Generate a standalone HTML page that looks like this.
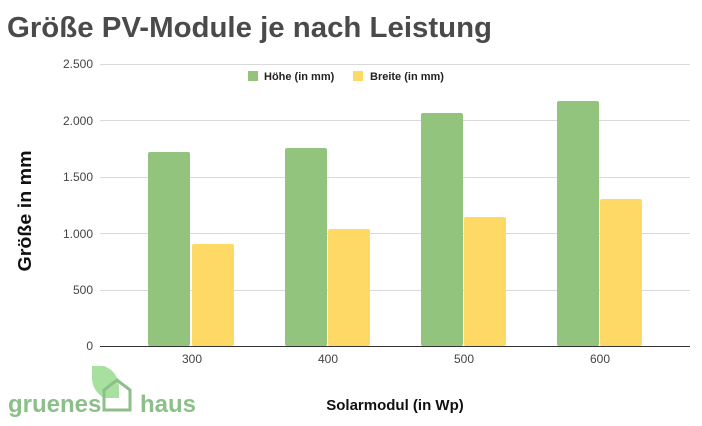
<!DOCTYPE html>
<html><head><meta charset="utf-8"><style>
body{margin:0;background:#fff;width:702px;height:421px;overflow:hidden;font-family:"Liberation Sans",sans-serif}
</style></head><body>
<svg width="702" height="421" xmlns="http://www.w3.org/2000/svg" font-family="Liberation Sans, sans-serif">
<text x="7" y="37" font-size="29" font-weight="bold" fill="#4a4a4a" textLength="485" lengthAdjust="spacingAndGlyphs">Größe PV-Module je nach Leistung</text>
<g stroke="#d9d9d9" stroke-width="1">
<line x1="100" y1="64.5" x2="690" y2="64.5"/><line x1="100" y1="120.5" x2="690" y2="120.5"/>
<line x1="100" y1="177.5" x2="690" y2="177.5"/><line x1="100" y1="233.5" x2="690" y2="233.5"/>
<line x1="100" y1="290.5" x2="690" y2="290.5"/>
</g>
<g font-size="12" fill="#444" text-anchor="end">
<text x="93" y="68">2.500</text><text x="93" y="125">2.000</text><text x="93" y="181">1.500</text>
<text x="93" y="238">1.000</text><text x="93" y="294">500</text><text x="93" y="350">0</text>
</g>
<g fill="#93c47d">
<rect x="148" y="152" width="42" height="194" rx="2"/><rect x="285" y="148" width="42" height="198" rx="2"/>
<rect x="421" y="113" width="42" height="233" rx="2"/><rect x="557" y="101" width="42" height="245" rx="2"/>
</g>
<g fill="#ffd966">
<rect x="192" y="244" width="42" height="102" rx="2"/><rect x="328" y="229" width="42" height="117" rx="2"/>
<rect x="464" y="217" width="42" height="129" rx="2"/><rect x="600" y="199" width="42" height="147" rx="2"/>
</g>
<line x1="100" y1="346.5" x2="690" y2="346.5" stroke="#333" stroke-width="1"/>
<g font-size="12" fill="#444" text-anchor="middle">
<text x="192" y="363">300</text><text x="328" y="363">400</text><text x="464" y="363">500</text><text x="600" y="363">600</text>
</g>
<rect x="248" y="71" width="10" height="10" fill="#93c47d"/>
<text x="264" y="80" font-size="11" font-weight="bold" fill="#222">Höhe (in mm)</text>
<rect x="353" y="71" width="10" height="10" fill="#ffd966"/>
<text x="370" y="80" font-size="11" font-weight="bold" fill="#222">Breite (in mm)</text>
<text x="395" y="410" font-size="15" font-weight="bold" fill="#111" text-anchor="middle">Solarmodul (in Wp)</text>
<text transform="translate(31,211) rotate(-90)" font-size="18" font-weight="bold" fill="#111" text-anchor="middle" textLength="121" lengthAdjust="spacingAndGlyphs">Größe in mm</text>
<path d="M92 366 L104 366 Q120 372 119 392 L119 398 L104 398 Q91 390 92 375 Z" fill="#a8e0a0"/>
<path d="M104 410 L104 390 L117 380 L130 390 L130 410 Z" fill="none" stroke="#8cbf8a" stroke-width="3"/>
<text x="8" y="412" font-size="24" font-weight="bold" fill="#8cbf8a">gruenes</text>
<text x="140" y="412" font-size="24" font-weight="bold" fill="#8cbf8a">haus</text>
</svg>
</body></html>
